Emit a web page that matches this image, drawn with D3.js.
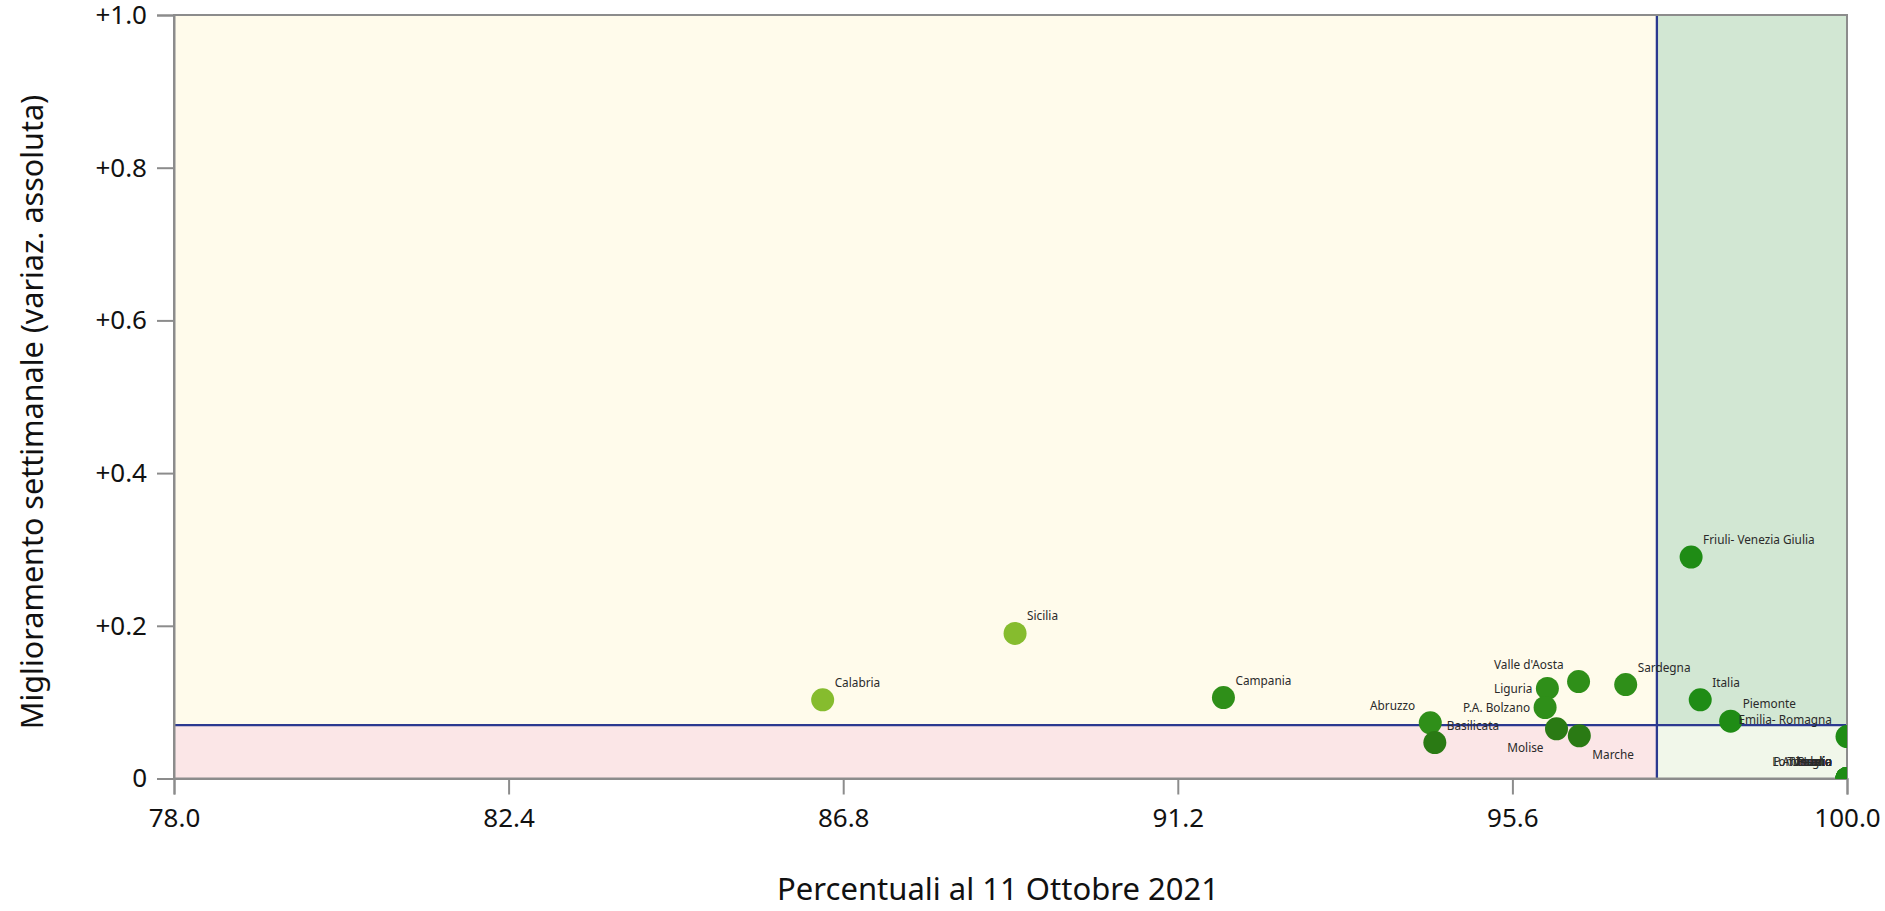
<!DOCTYPE html>
<html>
<head>
<meta charset="utf-8">
<script src="https://cdn.jsdelivr.net/npm/d3@7"></script>
<style>
  html, body { margin: 0; padding: 0; background: #ffffff; }
  svg { display: block; font-family: "Noto Sans", "Open Sans", sans-serif; }
</style>
</head>
<body>
<svg id="chart" width="1885" height="911"></svg>
<script>
// ---- data ----
const regions = ["Calabria", "Sicilia", "Campania", "Abruzzo", "Basilicata", "Liguria", "P.A. Bolzano",
  "Valle d'Aosta", "Molise", "Marche", "Sardegna", "Friuli- Venezia Giulia", "Italia", "Piemonte",
  "Emilia- Romagna", "Lombardia", "Lazio", "P.A. Trento", "Puglia", "Toscana", "Umbria", "Veneto"];
const coverage = [86.53, 89.06, 91.80, 94.52, 94.58, 96.06, 96.03,
  96.47, 96.18, 96.48, 97.09, 97.95, 98.07, 98.47,
  100.0, 100.0, 100.0, 100.0, 100.0, 100.0, 100.0, 100.0];
const improvement = [0.103, 0.190, 0.106, 0.073, 0.047, 0.118, 0.093,
  0.127, 0.065, 0.056, 0.123, 0.290, 0.103, 0.075,
  0.055, 0, 0, 0, 0, 0, 0, 0];
const labelSide = ["ur", "ur", "ur", "ul", "ur", "l", "l",
  "ul", "ll", "lr", "ur", "ur", "ur", "ur",
  "ul", "ul", "ul", "ul", "ul", "ul", "ul", "ul"];
const xTicks = [78.0, 82.4, 86.8, 91.2, 95.6, 100.0];
const yTicks = [0, 0.2, 0.4, 0.6, 0.8, 1.0];
const yTickLabels = ["0", "+0.2", "+0.4", "+0.6", "+0.8", "+1.0"];
const xThreshold = 97.5;
const yThreshold = 0.07;
const xTitle = "Percentuali al 11 Ottobre 2021";
const yTitle = "Miglioramento settimanale (variaz. assoluta)";

// ---- layout ----
const L = 174, R = 1847, T = 15, B = 778.5;
const svg = d3.select("#chart");
const x = d3.scaleLinear().domain([78, 100]).range([L, R]);
const y = d3.scaleLinear().domain([0, 1]).range([B, T]);

// background quadrants
const quads = [
  { x0: 78, x1: xThreshold, y0: yThreshold, y1: 1, fill: "#FFFBEB" },
  { x0: 78, x1: xThreshold, y0: 0, y1: yThreshold, fill: "#FBE6E7" },
  { x0: xThreshold, x1: 100, y0: yThreshold, y1: 1, fill: "#D2E7D3" },
  { x0: xThreshold, x1: 100, y0: 0, y1: yThreshold, fill: "#F1F7EA" }
];
svg.append("g").selectAll("rect").data(quads).join("rect")
  .attr("x", d => x(d.x0)).attr("y", d => y(d.y1))
  .attr("width", d => x(d.x1) - x(d.x0)).attr("height", d => y(d.y0) - y(d.y1))
  .attr("fill", d => d.fill);

// threshold lines
svg.append("line").attr("x1", x(xThreshold)).attr("x2", x(xThreshold))
  .attr("y1", y(1)).attr("y2", y(0)).attr("stroke", "#2B3990").attr("stroke-width", 2.3);
svg.append("line").attr("x1", x(78)).attr("x2", x(100))
  .attr("y1", y(yThreshold)).attr("y2", y(yThreshold)).attr("stroke", "#2B3990").attr("stroke-width", 2.3);

// frame (top, right)
svg.append("rect").attr("x", L).attr("y", T).attr("width", R - L).attr("height", B - T)
  .attr("fill", "none").attr("stroke", "#8C8C8C").attr("stroke-width", 2);

// axes
const xAxis = d3.axisBottom(x).tickValues(xTicks).tickFormat(d3.format(".1f")).tickSize(16).tickPadding(10);
const gx = svg.append("g").attr("transform", `translate(0,${B})`).call(xAxis);
const yAxis = d3.axisLeft(y).tickValues(yTicks).tickFormat((d, i) => yTickLabels[i]).tickSize(17).tickPadding(10);
const gy = svg.append("g").attr("transform", `translate(${L},0)`).call(yAxis);
[gx, gy].forEach(g => {
  g.select(".domain").attr("stroke", "#8C8C8C").attr("stroke-width", 2);
  g.selectAll(".tick line").attr("stroke", "#8C8C8C").attr("stroke-width", 2);
  g.selectAll(".tick text").attr("fill", "#111").style("font-size", "26px")
    .style("font-family", "'Noto Sans', sans-serif");
});
gx.selectAll(".tick text").attr("dy", "0.85em");

// axis titles
svg.append("text").attr("x", 998).attr("y", 900).attr("text-anchor", "middle")
  .style("font-size", "31px").attr("fill", "#111").text(xTitle);
svg.append("text").attr("transform", "translate(43,412) rotate(-90)").attr("text-anchor", "middle")
  .style("font-size", "30.5px").attr("fill", "#111").text(yTitle);

// points
const pts = regions.map((r, i) => ({ name: r, xv: coverage[i], yv: improvement[i], side: labelSide[i] }));
function colorFor(d) {
  if (d.xv < 90) return "#86BC2E";
  if (d.xv >= xThreshold) return "#1F8C15";
  if (d.yv < yThreshold) return "#2A7A14";
  return "#2F8F19";
}
svg.append("clipPath").attr("id", "plotClip").append("rect")
  .attr("x", L).attr("y", T).attr("width", R - L).attr("height", B - T);
const gp = svg.append("g").attr("clip-path", "url(#plotClip)");
gp.selectAll("circle").data(pts).join("circle")
  .attr("cx", d => x(d.xv)).attr("cy", d => y(d.yv)).attr("r", 11.5)
  .attr("fill", colorFor);

// labels
const offs = {
  ur: { dx: 12, dy: -13, anchor: "start" },
  ul: { dx: -15, dy: -13, anchor: "end" },
  l: { dx: -15, dy: 5, anchor: "end" },
  ll: { dx: -13, dy: 23, anchor: "end" },
  lr: { dx: 13, dy: 23, anchor: "start" }
};
svg.append("g").selectAll("text").data(pts).join("text")
  .attr("x", d => x(d.xv) + offs[d.side].dx)
  .attr("y", d => y(d.yv) + offs[d.side].dy)
  .attr("text-anchor", d => offs[d.side].anchor)
  .style("font-size", "11.8px").attr("fill", "#2a2a2a")
  .text(d => d.name);
</script>
</body>
</html>
